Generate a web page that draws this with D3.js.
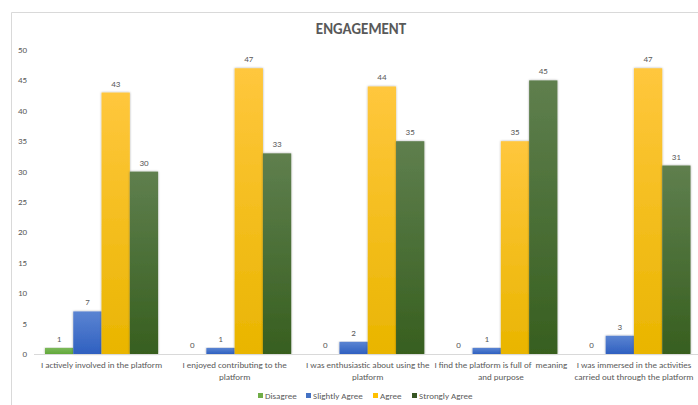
<!DOCTYPE html>
<html>
<head>
<meta charset="utf-8">
<script src="https://cdn.jsdelivr.net/npm/d3@7"></script>
<style>
	body { margin: 0; background: #fff; }
	text { font-family: Calibri, Carlito, 'Liberation Sans', sans-serif; }
</style>
</head>
<body>
<div id="chart"></div>
<script>
let categories = [
	['I actively involved in the platform'],
	['I enjoyed contributing to the', 'platform'],
	['I was enthusiastic about using the', 'platform'],
	['I find the platform is full of  meaning', 'and purpose'],
	['I was immersed in the activities', 'carried out through the platform']
]
let seriesNames = ['Disagree', 'Slightly Agree', 'Agree', 'Strongly Agree']
let disagree = [1, 0, 0, 0, 0]
let slightlyAgree = [7, 1, 2, 1, 3]
let agree = [43, 47, 44, 35, 47]
let stronglyAgree = [30, 33, 35, 45, 31]
let yTicks = [0, 5, 10, 15, 20, 25, 30, 35, 40, 45, 50]

let series = [disagree, slightlyAgree, agree, stronglyAgree]
// top / bottom colour of each bar gradient
let colors = [
	['#7cb95a', '#62a83a'],
	['#5b84d2', '#2f60c0'],
	['#ffc73d', '#e9b500'],
	['#5f7f4e', '#375f1f']
]
let legendColors = ['#70ad47', '#4472c4', '#ffc000', '#375623']

let W = 698, H = 405
let svg = d3.select('#chart').append('svg:svg').attr('width', W).attr('height', H)

let defs = svg.append('defs')
colors.forEach((c, i) => {
	let g = defs.append('linearGradient').attr('id', `grad${i}`)
		.attr('x1', 0).attr('y1', 0).attr('x2', 0).attr('y2', 1)
	g.append('stop').attr('offset', '0%').attr('stop-color', c[0])
	g.append('stop').attr('offset', '100%').attr('stop-color', c[1])
})
let shadow = defs.append('filter').attr('id', 'shadow')
	.attr('x', '-20%').attr('y', '-5%').attr('width', '140%').attr('height', '110%')
shadow.append('feDropShadow').attr('dx', 0).attr('dy', 0).attr('stdDeviation', 0.8)
	.attr('flood-color', '#000').attr('flood-opacity', 0.35)

// chart frame
svg.append('path')
	.attr('d', `M11.5,${H} L11.5,12.5 L${W},12.5`)
	.attr('fill', 'none').attr('stroke', '#d9d9d9').attr('stroke-width', 1)

svg.append('text')
	.attr('x', 361).attr('y', 34)
	.attr('text-anchor', 'middle')
	.attr('font-size', 15).attr('font-weight', 'bold')
	.attr('fill', '#595959')
	.text('ENGAGEMENT')

let plotL = 35, plotR = 700.5, plotT = 50, plotB = 354

let y = d3.scaleLinear().domain([0, 50]).range([plotB, plotT])
let x0 = d3.scaleBand().domain(d3.range(categories.length)).range([plotL, plotR]).paddingInner(0.15).paddingOuter(0.075)
let x1 = d3.scaleBand().domain(d3.range(series.length)).range([0, x0.bandwidth()])

// y tick labels
svg.append('g').selectAll('text').data(yTicks).join('text')
	.attr('x', 27).attr('y', d => y(d) + 3)
	.attr('text-anchor', 'end')
	.attr('font-size', 9).attr('fill', '#595959')
	.text(d => d)

// bars
series.forEach((vals, si) => {
	let g = svg.append('g')
	g.selectAll('rect').data(vals).join('rect')
		.attr('x', (d, ci) => x0(ci) + x1(si))
		.attr('y', d => y(d))
		.attr('width', x1.bandwidth())
		.attr('height', d => plotB - y(d))
		.attr('fill', `url(#grad${si})`)
		.attr('filter', d => d > 0 ? 'url(#shadow)' : null)
	g.selectAll('text').data(vals).join('text')
		.attr('x', (d, ci) => x0(ci) + x1(si) + x1.bandwidth() / 2)
		.attr('y', d => y(d) - 6)
		.attr('text-anchor', 'middle')
		.attr('font-size', 9).attr('fill', '#595959')
		.text(d => d)
})

// x axis line
svg.append('line')
	.attr('x1', 34).attr('x2', 698)
	.attr('y1', plotB + 0.5).attr('y2', plotB + 0.5)
	.attr('stroke', '#d9d9d9')

// category labels
categories.forEach((lines, ci) => {
	let t = svg.append('text')
		.attr('text-anchor', 'middle')
		.attr('font-size', 9).attr('fill', '#595959')
	lines.forEach((ln, li) => {
		t.append('tspan')
			.attr('x', x0(ci) + x0.bandwidth() / 2)
			.attr('y', 368 + li * 12)
			.attr('xml:space', 'preserve')
			.text(ln)
	})
})

// legend
let legendX = [258, 306, 373, 412]
let legend = svg.append('g')
seriesNames.forEach((name, i) => {
	legend.append('rect')
		.attr('x', legendX[i]).attr('y', 393)
		.attr('width', 5).attr('height', 5)
		.attr('fill', legendColors[i])
	legend.append('text')
		.attr('x', legendX[i] + 7).attr('y', 398.5)
		.attr('font-size', 9).attr('fill', '#595959')
		.text(name)
})
</script>
</body>
</html>
